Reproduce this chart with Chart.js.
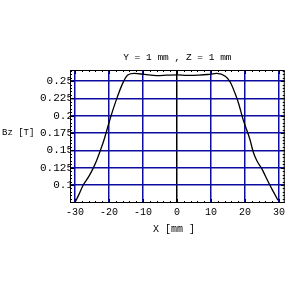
<!DOCTYPE html>
<html>
<head>
<meta charset="utf-8">
<script src="https://cdn.jsdelivr.net/npm/chart.js@4"></script>
<style>
  html, body { margin: 0; padding: 0; background: #fff; }
  #wrap { width: 288px; height: 288px; }
</style>
</head>
<body>
<div id="wrap"><canvas id="bzChart" width="288" height="288"></canvas></div>
<script>
// field profile
const xPos = [-30, -29, -27.6, -26, -24.7, -23.7, -22.7, -21.5, -19.6, -17.9, -16, -14.5, -12.5, -9.6, -6, -3, 0, 3, 6.4, 9, 11.7, 14.2, 15.6, 17.1, 18.1, 19.5, 21.5, 22.4, 23.5, 24.9, 26, 27.3, 28.5, 29.7];
const bzVals = [0.075, 0.085, 0.1, 0.112, 0.124, 0.135, 0.148, 0.165, 0.197, 0.2225, 0.2467, 0.2587, 0.261, 0.2597, 0.258, 0.2585, 0.259, 0.2583, 0.2587, 0.2595, 0.261, 0.257, 0.249, 0.232, 0.218, 0.1936, 0.165, 0.148, 0.135, 0.124, 0.113, 0.1, 0.089, 0.078];
const xTicks = [-30, -20, -10, 0, 10, 20, 30];
const yTicks = [0.1, 0.125, 0.15, 0.175, 0.2, 0.225, 0.25];
const titleText = 'Y = 1 mm , Z = 1 mm';
const xLabel = 'X [mm ]';
const yLabel = 'Bz [T]';

const gridBlue = '#0c0ca0';

const points = xPos.map((x, i) => ({ x: x, y: bzVals[i] }));

// frame, minor ticks and the three labels
const decor = {
    id: 'decor',
    afterDraw(chart) {
        const ctx = chart.ctx;
        const a = chart.chartArea;
        const xs = chart.scales.x, ys = chart.scales.y;
        ctx.save();
        ctx.strokeStyle = '#000';
        ctx.lineWidth = 1;
        ctx.strokeRect(a.left + 0.5, a.top + 0.5, a.right - a.left - 1, a.bottom - a.top - 1);
        ctx.beginPath();
        for (let v = -30; v <= 30; v += 2) {
            const px = Math.round(xs.getPixelForValue(v)) + 0.5;
            const len = v % 10 === 0 ? 4 : 2;
            ctx.moveTo(px, a.bottom); ctx.lineTo(px, a.bottom - len);
            ctx.moveTo(px, a.top); ctx.lineTo(px, a.top + len);
        }
        for (let k = 15; k <= 53; k++) {
            const v = k * 0.005;
            const py = Math.round(ys.getPixelForValue(v)) + 0.5;
            if (py < a.top || py > a.bottom) continue;
            const len = k % 5 === 0 ? 4 : 2;
            ctx.moveTo(a.left, py); ctx.lineTo(a.left + len, py);
            ctx.moveTo(a.right, py); ctx.lineTo(a.right - len, py);
        }
        ctx.stroke();

        ctx.fillStyle = '#000';
        ctx.textBaseline = 'middle';
        ctx.textAlign = 'center';
        ctx.font = '9.5px "Liberation Mono"';
        ctx.fillText(titleText, (a.left + a.right) / 2, 57);
        ctx.font = '10px "Liberation Mono"';
        ctx.fillText(xLabel, 174, 229);
        ctx.textAlign = 'left';
        ctx.font = '9px "Liberation Mono"';
        ctx.fillText(yLabel, 2, 133);
        ctx.restore();
    }
};

new Chart(document.getElementById('bzChart'), {
    type: 'line',
    data: {
        datasets: [{
            data: points,
            borderColor: '#000',
            borderWidth: 1.3,
            pointRadius: 0,
            fill: false,
            cubicInterpolationMode: 'monotone'
        }]
    },
    options: {
        responsive: false,
        animation: false,
        layout: { padding: { top: 70, left: 0, right: 1, bottom: 0 } },
        plugins: { legend: { display: false }, tooltip: { enabled: false } },
        scales: {
            x: {
                type: 'linear',
                min: -31.5,
                max: 31.7,
                afterFit: s => { s.height = 85; },
                afterBuildTicks: s => { s.ticks = xTicks.map(v => ({ value: v })); },
                ticks: { font: { family: 'Liberation Mono', size: 10 }, color: '#000', padding: 3, maxRotation: 0,
                    callback: v => String(v) },
                grid: { drawTicks: false, lineWidth: 1.5,
                    color: c => (c.tick && c.tick.value === 0 ? '#000' : gridBlue) },
                border: { display: false }
            },
            y: {
                type: 'linear',
                min: 0.074,
                max: 0.266,
                afterFit: s => { s.width = 70; },
                afterBuildTicks: s => { s.ticks = yTicks.map(v => ({ value: v })); },
                ticks: { font: { family: 'Liberation Mono', size: 11 }, color: '#000', padding: -3,
                    callback: v => String(Number(v.toFixed(3))) },
                grid: { drawTicks: false, lineWidth: 1.5, color: gridBlue },
                border: { display: false }
            }
        }
    },
    plugins: [decor]
});
</script>
</body>
</html>
